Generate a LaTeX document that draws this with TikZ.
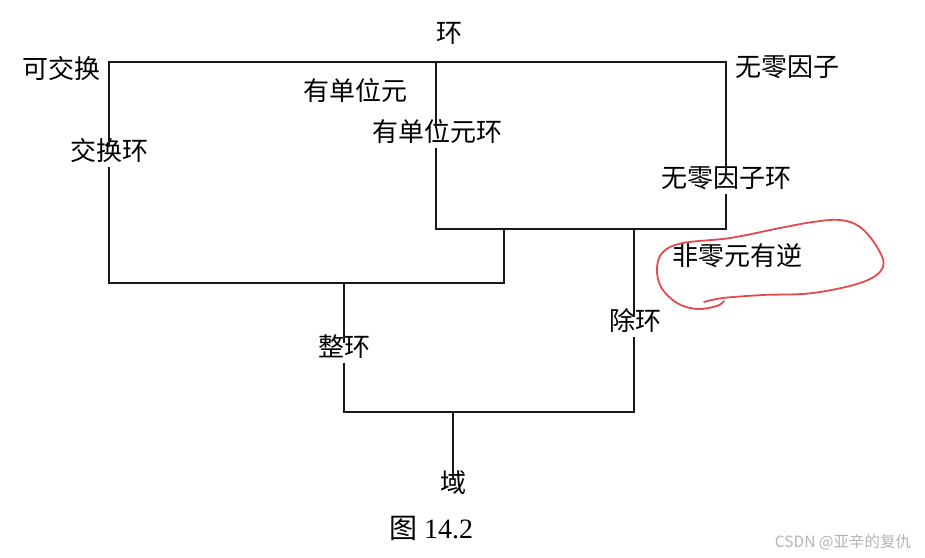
\documentclass[tikz,border=0pt]{standalone}
\usepackage{fontspec}
\setmainfont{Liberation Serif}
\newfontfamily\cjk{Noto Sans CJK SC}
\definecolor{markred}{HTML}{E5484D}
\definecolor{wmgray}{HTML}{B4B4B4}

\begin{document}
\begin{tikzpicture}[
    x=1pt,y=-1pt,
    lbl/.style={font=\cjk\fontsize{26}{30}\selectfont,inner sep=0pt,text height=0.85em,text depth=0.15em,yshift=-6pt},
    onln/.style={lbl,inner xsep=1pt,inner ysep=4.5pt},
    ln/.style={line width=1.6pt,black!90},
    loop/.style={line width=1.8pt,markred,line cap=round}
  ]
    \useasboundingbox (0,0) rectangle (925,557);

    % corners of the boxes
    \coordinate (tl) at (109,62);
    \coordinate (tm) at (436,62);
    \coordinate (tr) at (726,62);
    \coordinate (bl) at (109,283);
    \coordinate (br) at (504,283);
    \coordinate (ml) at (436,229);
    \coordinate (mm) at (504,229);
    \coordinate (mc) at (634,229);
    \coordinate (mr) at (726,229);
    \coordinate (zl) at (344,283);
    \coordinate (fl) at (344,412);
    \coordinate (fm) at (453,412);
    \coordinate (fr) at (634,412);

    % Labels on the lines
    \node[onln] (jhh) at (109,151) {交换环};
    \node[onln] (ydw) at (437,132) {有单位元环};
    \node[onln] (wly) at (726,178) {无零因子环};
    \node[onln] (zh) at (344,347) {整环};
    \node[onln] (ch) at (635,321) {除环};
    \node[onln] (yu) at (453,483) {域};

    % Labels beside the lines
    \node[lbl] (huan) at (449,33) {环};
    \node[lbl] (kjh) at (61,69) {可交换};
    \node[lbl] (ydwy) at (355,91) {有单位元};
    \node[lbl] (wlyz) at (787,67) {无零因子};
    \node[lbl] (fly) at (737,256) {非零元有逆};

    % Lines - upper boxes
    \draw[ln] (jhh.north) -- (tl) -- (tr) -- (wly.north);
    \draw[ln] (jhh.south) -- (bl) -- (br) -- (mm);
    \draw[ln] (tm) -- (tm |- ydw.north);
    \draw[ln] (ml |- ydw.south) -- (ml) -- (mr) -- (wly.south);

    % Lines - lower part
    \draw[ln] (zl) -- (zh.north);
    \draw[ln] (mc) -- (mc |- ch.north);
    \draw[ln] (zh.south) -- (fl) -- (fr) -- (fr |- ch.south);
    \draw[ln] (fm) -- (yu.north);

    % red mark
    \draw[loop] plot[smooth,tension=0.6] coordinates {
      (704,302) (723,298) (763,295) (813,293) (863,282) (883,267)
      (877,247) (860,227) (840,220) (813,222) (780,228) (730,238)
      (683,243) (663,252) (657,268) (661,287) (677,303) (697,309)
      (717,306) (724,301)};

    % caption and watermark
    \node[font=\fontsize{28}{32}\selectfont,inner sep=0pt] (cap) at (431,528) {{\cjk 图} 14.2};
    \node[font=\cjk\fontsize{15.5}{18}\selectfont,text=wmgray,inner sep=0pt] (wm) at (843,542) {CSDN @亚辛的复仇};
  \end{tikzpicture}
\end{document}
